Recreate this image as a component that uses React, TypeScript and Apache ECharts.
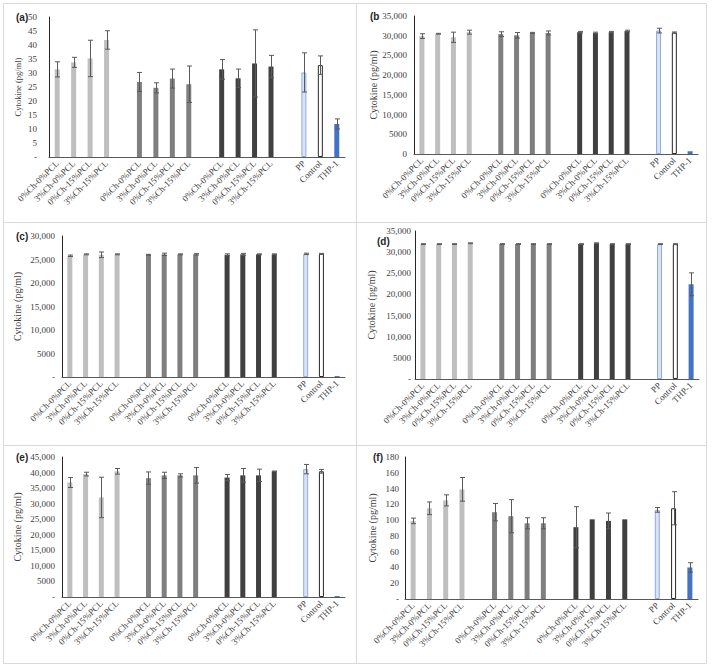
import React, { useEffect, useRef } from "react";
import * as echarts from "echarts";

const groupLabels = ["0%Ch-0%PCL", "3%Ch-0%PCL", "0%Ch-15%PCL", "3%Ch-15%PCL"];
const refLabels = ["PP", "Control", "THP-1"];
const categories = [...groupLabels, "", ...groupLabels, "", ...groupLabels, "", ...refLabels];
const slotIndex = [0, 1, 2, 3, 5, 6, 7, 8, 10, 11, 12, 13, 15, 16, 17];

const aValues = [31.3, 33.8, 35.2, 41.8, 26.8, 24.7, 28.0, 26.0, 31.3, 28.1, 33.4, 32.3, 30.2, 32.8, 11.8];
const aErrors = [2.7, 1.8, 6.5, 3.3, 3.4, 1.8, 3.4, 6.5, 3.5, 3.3, 12.0, 4.0, 7.0, 3.3, 1.8];
const bValues = [29900, 30500, 29600, 30900, 30400, 30100, 30700, 30700, 30900, 30700, 30900, 31200, 31300, 30800, 700];
const bErrors = [600, 100, 1300, 500, 600, 700, 150, 500, 200, 200, 200, 200, 600, 150, 0];
const cValues = [25800, 26100, 26000, 26100, 26000, 26100, 26100, 26100, 26000, 26100, 26100, 26100, 26200, 26200, 200];
const cErrors = [150, 100, 600, 100, 100, 250, 100, 150, 200, 200, 100, 100, 150, 100, 0];
const dValues = [31900, 31900, 31900, 32100, 31900, 31900, 31900, 31900, 31900, 32100, 31900, 31900, 31900, 31900, 22400];
const dErrors = [100, 100, 100, 100, 100, 100, 100, 100, 100, 100, 100, 100, 100, 100, 2700];
const eValues = [36800, 39500, 32000, 40400, 38200, 39100, 39100, 39100, 38400, 39100, 39100, 40400, 41100, 40400, 300];
const eErrors = [1600, 600, 6500, 900, 2000, 1000, 500, 2500, 1000, 2200, 2000, 100, 1500, 600, 0];
const fValues = [99, 115, 125, 139, 110, 105, 96, 96, 91, 101, 99, 101, 113, 115, 40];
const fErrors = [3.5, 8, 7, 15, 11, 21, 7, 7, 26, 0, 10, 0, 3, 21, 6];

const panelTags = ["(a)", "(b", "(c)", "(d)", "(e)", "(f)"];
const axisMax = [50, 35000, 30000, 35000, 45000, 180];
const axisInterval = [5, 5000, 5000, 5000, 5000, 20];

const LIGHT = "#bfbfbf";
const MID = "#7f7f7f";
const DARK = "#404040";
const TEXT = "#404040";
const SERIF = "'Liberation Serif', 'DejaVu Serif', serif";

function slotStyle(slot: number) {
  if (slot < 4) return { color: LIGHT };
  if (slot < 9) return { color: MID };
  if (slot < 14) return { color: DARK };
  if (slot === 15) return { color: "#dae3f3", borderColor: "#8faadc", borderWidth: 1 };
  if (slot === 16) return { color: "#ffffff", borderColor: "#262626", borderWidth: 1 };
  return { color: "#4472c4" };
}

const panels = [
  { values: aValues, errors: aErrors, left: 49, top: 17, right: 345, bottom: 157, titleX: 17, titleSize: 8.5, labelGap: 12, zeroLabel: "-" },
  { values: bValues, errors: bErrors, left: 414, top: 16, right: 698, bottom: 154, titleX: 373, titleSize: 10, labelGap: 7, zeroLabel: "0" },
  { values: cValues, errors: cErrors, left: 62, top: 236, right: 345, bottom: 377, titleX: 17, titleSize: 10, labelGap: 7, zeroLabel: "-" },
  { values: dValues, errors: dErrors, left: 415, top: 231, right: 699, bottom: 379, titleX: 371, titleSize: 10, labelGap: 4, zeroLabel: "-" },
  { values: eValues, errors: eErrors, left: 62, top: 457, right: 345, bottom: 597, titleX: 17, titleSize: 10, labelGap: 7, zeroLabel: "-" },
  { values: fValues, errors: fErrors, left: 405, top: 457, right: 698, bottom: 599, titleX: 372, titleSize: 10, labelGap: 6, zeroLabel: "-" },
];
const tagPos = [
  [16, 12], [370, 11], [16, 231], [377, 236], [16, 452], [373, 452],
];

function fmt(v: number, zero: string) {
  if (v === 0) return zero;
  if (v === 5000) return "5000";
  return v.toLocaleString("en-US");
}

export default function App() {
  const ref = useRef<HTMLDivElement>(null);
  useEffect(() => {
    if (!ref.current) return;
    const chart = echarts.init(ref.current, null, { renderer: "svg" });
    const grid: any[] = [];
    const xAxis: any[] = [];
    const yAxis: any[] = [];
    const series: any[] = [];
    panels.forEach((p, i) => {
      grid.push({ left: p.left, top: p.top, width: p.right - p.left, height: p.bottom - p.top });
      xAxis.push({
        type: "category",
        gridIndex: i,
        data: categories,
        axisLine: { lineStyle: { color: "#595959", width: 1 } },
        axisTick: { show: false },
        axisLabel: {
          interval: 0,
          rotate: 45,
          fontFamily: SERIF,
          fontSize: 9,
          color: TEXT,
          margin: 5,
        },
      });
      yAxis.push({
        type: "value",
        gridIndex: i,
        min: 0,
        max: axisMax[i],
        interval: axisInterval[i],
        splitLine: { show: false },
        axisLine: { show: true, lineStyle: { color: "#262626", width: 1 } },
        axisTick: { show: false },
        axisLabel: {
          fontFamily: SERIF,
          fontSize: 9,
          color: TEXT,
          margin: p.labelGap,
          formatter: (v: number) => fmt(v, p.zeroLabel),
        },
        name: "Cytokine (pg/ml)",
        nameLocation: "middle",
        nameRotate: 90,
        nameGap: p.left - p.titleX - 5,
        nameTextStyle: { fontFamily: SERIF, fontSize: p.titleSize, color: TEXT },
      });
      const barData = categories.map((_, slot) => {
        const k = slotIndex.indexOf(slot);
        if (k < 0) return { value: null };
        return { value: p.values[k], itemStyle: slotStyle(slot) };
      });
      series.push({
        type: "bar",
        xAxisIndex: i,
        yAxisIndex: i,
        data: barData,
        barWidth: 5,
        barGap: "-100%",
      });
      series.push({
        type: "custom",
        xAxisIndex: i,
        yAxisIndex: i,
        z: 5,
        encode: { x: 0, y: 1 },
        data: slotIndex.map((slot, k) => [slot, p.values[k], p.errors[k]]),
        renderItem: (params: any, api: any) => {
          const x = api.value(0);
          const v = api.value(1);
          const e = api.value(2);
          if (!e) return null;
          const t = api.coord([x, v + e]);
          const b = api.coord([x, Math.max(0, v - e)]);
          const cx = Math.round(t[0]) + 0.5;
          const hw = 2.5;
          const style = { stroke: "#5a5a5a", lineWidth: 1 };
          return {
            type: "group",
            children: [
              { type: "line", shape: { x1: cx, y1: t[1], x2: cx, y2: b[1] }, style },
              { type: "line", shape: { x1: cx - hw, y1: t[1], x2: cx + hw, y2: t[1] }, style },
              { type: "line", shape: { x1: cx - hw, y1: b[1], x2: cx + hw, y2: b[1] }, style },
            ],
          };
        },
      });
    });
    const border = { stroke: "#d9d9d9", lineWidth: 1 };
    const graphic: any[] = [
      { type: "rect", shape: { x: 3.5, y: 3.5, width: 703, height: 660 }, style: { fill: "none", ...border } },
      { type: "line", shape: { x1: 356.5, y1: 3, x2: 356.5, y2: 664 }, style: border },
      { type: "line", shape: { x1: 3, y1: 222.5, x2: 707, y2: 222.5 }, style: border },
      { type: "line", shape: { x1: 3, y1: 445.5, x2: 707, y2: 445.5 }, style: border },
    ];
    panelTags.forEach((t, i) => {
      graphic.push({
        type: "text",
        x: tagPos[i][0],
        y: tagPos[i][1],
        style: { text: t, fontFamily: "'Liberation Sans', Arial, sans-serif", fontWeight: "bold", fontSize: 10, fill: "#262626" },
      });
    });
    chart.setOption({
      animation: false,
      backgroundColor: "#ffffff",
      grid,
      xAxis,
      yAxis,
      series,
      graphic,
    });
    return () => chart.dispose();
  }, []);
  return <div ref={ref} style={{ position: "absolute", left: 0, top: 0, width: 713, height: 670 }} />;
}
